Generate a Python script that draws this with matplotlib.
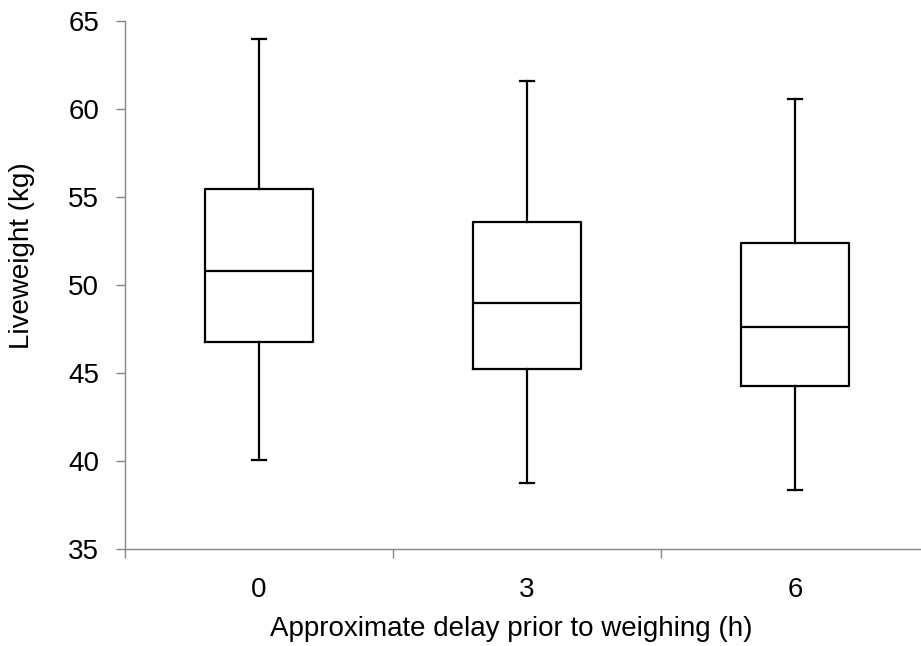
import numpy as np
import matplotlib.pyplot as plt

plt.rcParams['font.family'] = ['Liberation Sans', 'DejaVu Sans']

# box statistics
labels = ['0', '3', '6']
whislo = [40.06, 38.75, 38.37]
q1 = [46.76, 45.24, 44.28]
med = [50.80, 48.98, 47.61]
q3 = [55.43, 53.58, 52.39]
whishi = [63.98, 61.60, 60.57]

stats = []
for i in range(len(labels)):
    stats.append(dict(label=labels[i], whislo=whislo[i], q1=q1[i], med=med[i],
                      q3=q3[i], whishi=whishi[i], fliers=[]))

fig = plt.figure(figsize=(9.21, 6.46), dpi=100)
ax = fig.add_axes([0.1357, 0.150, 0.873, 0.8175])

pos = np.arange(len(labels))
ax.bxp(stats, positions=pos, widths=0.40, capwidths=0.05, showfliers=False,
       boxprops=dict(color='black', linewidth=1.6),
       medianprops=dict(color='black', linewidth=1.6),
       whiskerprops=dict(color='black', linewidth=1.6),
       capprops=dict(color='black', linewidth=1.6))

ax.set_xlim(-0.5, 2.5)
ax.set_ylim(35, 65)
ax.set_yticks(np.arange(35, 66, 5))
ax.set_xticks(pos)
ax.set_xticklabels(labels)
ax.set_xticks([-0.5, 0.5, 1.5, 2.5], minor=True)

grey = '#868686'
for s in ['top', 'right']:
    ax.spines[s].set_visible(False)
for s in ['left', 'bottom']:
    ax.spines[s].set_color(grey)
    ax.spines[s].set_linewidth(1.0)

ax.tick_params(axis='y', length=6.5, width=1.0, color=grey, pad=12, labelsize=20)
ax.tick_params(axis='x', which='major', length=0, pad=20, labelsize=20)
ax.tick_params(axis='x', which='minor', length=6.5, width=1.0, color=grey)

ax.set_xlabel('Approximate delay prior to weighing (h)', fontsize=20)
ax.set_ylabel('Liveweight (kg)', fontsize=20)
ax.xaxis.set_label_coords(0.481, -0.126)
ax.yaxis.set_label_coords(-0.112, 0.555)

fig.savefig('out.png', dpi=100)
